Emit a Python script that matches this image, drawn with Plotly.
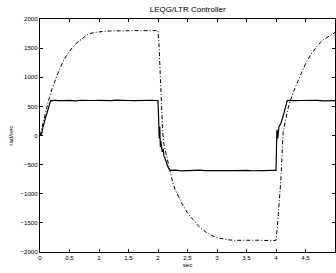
import plotly.graph_objects as go

# Solid line (LEQG/LTR response)
t_solid = [0.0, 0.03, 0.05, 0.1, 0.15, 0.18, 0.2, 0.25, 0.3, 0.35, 0.4, 0.5, 0.6, 0.7, 0.8, 0.9,
           1.0, 1.1, 1.2, 1.3, 1.4, 1.5, 1.6, 1.7, 1.8, 1.9, 1.98,
           2.0, 2.01, 2.02, 2.03, 2.04, 2.05, 2.07, 2.09, 2.1, 2.13, 2.16, 2.2,
           2.3, 2.4, 2.5, 2.6, 2.7, 2.8, 2.9, 3.0, 3.1, 3.2, 3.3, 3.4, 3.5, 3.6, 3.7, 3.8, 3.9, 3.98,
           4.0, 4.015, 4.03, 4.05, 4.08, 4.12, 4.16, 4.19,
           4.25, 4.3, 4.4, 4.5, 4.6, 4.7, 4.8, 4.9, 5.0]
v_solid = [0, 30, 150, 330, 500, 600, 595, 606, 598, 604, 600, 602, 596, 605, 599, 601,
           604, 597, 600, 606, 598, 601, 597, 604, 600, 605, 601,
           600, 300, -50, 150, -200, -100, -280, -230, -350, -420, -520, -600,
           -595, -606, -599, -602, -595, -604, -600, -605, -598, -601, -604, -597, -600, -605, -598, -602, -600, -601,
           -600, 100, -50, 150, 200, 330, 500, 600,
           604, 597, 601, 605, 598, 602, 596, 603, 600]

# Dash-dot line
t_dd = [0.0, 0.05, 0.1, 0.15, 0.2, 0.25, 0.3, 0.4, 0.5, 0.6, 0.7, 0.8, 0.9, 1.0, 1.1, 1.2, 1.3, 1.4,
        1.5, 1.6, 1.7, 1.8, 1.9, 2.0,
        2.02, 2.04, 2.06, 2.08, 2.1, 2.15, 2.2, 2.25, 2.3, 2.4, 2.5, 2.6, 2.7, 2.8, 2.9, 3.0, 3.1, 3.2,
        3.3, 3.4, 3.5, 3.6, 3.7, 3.8, 3.9, 4.0,
        4.02, 4.05, 4.08, 4.1, 4.12, 4.15, 4.2, 4.25, 4.3, 4.4, 4.5, 4.6, 4.7, 4.8, 4.9, 5.0]
v_dd = [0, 220, 420, 620, 790, 930, 1060, 1290, 1450, 1570, 1650, 1730, 1765, 1780, 1790, 1795, 1800, 1803,
        1798, 1801, 1797, 1802, 1800, 1800,
        1500, 1000, 500, 50, -150, -380, -620, -810, -950, -1160, -1330, -1450, -1570, -1650, -1710, -1755, -1780, -1792,
        -1800, -1797, -1803, -1800, -1797, -1802, -1800, -1800,
        -1600, -1250, -800, -400, 50, 200, 450, 620, 760, 1000, 1230, 1400, 1540, 1640, 1710, 1770]

x_ticks = [0, 0.5, 1, 1.5, 2, 2.5, 3, 3.5, 4, 4.5, 5]
x_ticklabels = ["0", "0.5", "1", "1.5", "2", "2.5", "3", "3.5", "4", "4.5", "5"]
y_ticks = [-2000, -1500, -1000, -500, 0, 500, 1000, 1500, 2000]

fig = go.Figure()
fig.add_trace(go.Scatter(x=t_dd, y=v_dd, mode="lines",
                         line=dict(color="black", width=1, dash="4px,2px,1px,2px")))
fig.add_trace(go.Scatter(x=t_solid, y=v_solid, mode="lines",
                         line=dict(color="black", width=1.2)))

font = "Liberation Sans, Arial, sans-serif"
fig.update_layout(
    width=336, height=273,
    margin=dict(l=40, r=1, t=19, b=21, autoexpand=False),
    paper_bgcolor="white", plot_bgcolor="white",
    showlegend=False,
    title=dict(text="LEQG/LTR Controller", x=0.5585, xanchor="center", y=0.965, yanchor="middle",
               font=dict(family=font, size=8, color="black")),
    font=dict(family=font, size=6.2, color="black"),
)
fig.update_xaxes(range=[0, 5], tickvals=x_ticks, ticktext=x_ticklabels, automargin=False,
                 showgrid=False, zeroline=False, showline=True, linecolor="black", linewidth=1,
                 mirror="ticks", ticks="inside", ticklen=3, tickcolor="black",
                 title=dict(text="sec", font=dict(size=6.2), standoff=2))
fig.update_yaxes(range=[-2000, 2000], tickvals=y_ticks, automargin=False,
                 showgrid=False, zeroline=False, showline=True, linecolor="black", linewidth=1,
                 mirror="ticks", ticks="inside", ticklen=3, tickcolor="black",
                 title=dict(text="rad/sec", font=dict(size=6.2), standoff=6))

fig.write_html("out.html", config={"displayModeBar": False},
               post_script="document.body.style.margin='0';")
